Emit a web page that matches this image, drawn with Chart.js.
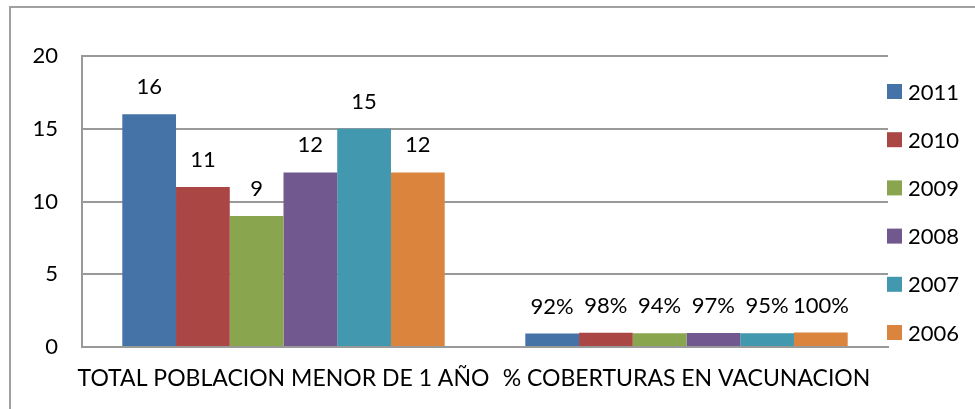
<!DOCTYPE html>
<html>
<head>
<meta charset="utf-8">
<script src="https://cdn.jsdelivr.net/npm/chart.js@4.4.1/dist/chart.umd.min.js"></script>
<style>
  html, body { margin: 0; padding: 0; background: #fff; }
  #wrap { width: 975px; height: 409px; position: relative; }
</style>
</head>
<body>
<div id="wrap"><canvas id="c" width="975" height="409"></canvas></div>
<script>
const categories = ["TOTAL POBLACION MENOR DE 1 AÑO", "% COBERTURAS EN VACUNACION"];
const seriesNames = ["2011", "2010", "2009", "2008", "2007", "2006"];
const s2011 = [16, 0.92];
const s2010 = [11, 0.98];
const s2009 = [9, 0.94];
const s2008 = [12, 0.97];
const s2007 = [15, 0.95];
const s2006 = [12, 1.00];
const yTicks = [0, 5, 10, 15, 20];
const colors = ["#4572A7", "#AA4643", "#89A54E", "#71588F", "#4198AF", "#DB843D"];

const FONT = "Lato, 'Liberation Sans', sans-serif";
const FS = 22;

function fmtLabel(catIndex, v) {
  return catIndex === 1 ? Math.round(v * 100) + "%" : String(v);
}

const seriesData = [s2011, s2010, s2009, s2008, s2007, s2006];

const frame = {
  id: "frame",
  beforeDraw(chart) {
    const ctx = chart.ctx;
    ctx.save();
    ctx.strokeStyle = "#a0a0a0";
    ctx.lineWidth = 2;
    ctx.strokeRect(10, 7, 1000, 460);
    ctx.restore();
  }
};

const valueLabels = {
  id: "valueLabels",
  afterDatasetsDraw(chart) {
    const ctx = chart.ctx;
    ctx.save();
    ctx.font = FS + "px " + FONT;
    ctx.fillStyle = "#000";
    ctx.textAlign = "center";
    ctx.textBaseline = "middle";
    chart.data.datasets.forEach((ds, di) => {
      const meta = chart.getDatasetMeta(di);
      meta.data.forEach((bar, i) => {
        ctx.fillText(fmtLabel(i, ds.data[i]), bar.x, bar.y - 27);
      });
    });
    ctx.restore();
  }
};

const sideLegend = {
  id: "sideLegend",
  afterDraw(chart) {
    const ctx = chart.ctx;
    ctx.save();
    ctx.font = FS + "px " + FONT;
    ctx.textAlign = "left";
    ctx.textBaseline = "middle";
    chart.data.datasets.forEach((ds, i) => {
      const cy = 91.5 + i * 48.2;
      ctx.fillStyle = ds.backgroundColor;
      ctx.fillRect(887, cy - 7.5, 15, 15);
      ctx.fillStyle = "#000";
      ctx.fillText(ds.label, 908, cy + 1);
    });
    ctx.restore();
  }
};

new Chart(document.getElementById("c"), {
  type: "bar",
  data: {
    labels: categories,
    datasets: seriesNames.map((name, i) => ({
      label: name,
      data: seriesData[i],
      backgroundColor: colors[i],
      borderWidth: 0,
      categoryPercentage: 0.8,
      barPercentage: 1.0
    }))
  },
  options: {
    responsive: false,
    animation: false,
    devicePixelRatio: 1,
    layout: { padding: { top: 56, right: 87, left: 0, bottom: 0 } },
    plugins: {
      legend: { display: false },
      tooltip: { enabled: false },
      title: { display: false }
    },
    scales: {
      x: {
        grid: { display: false, drawTicks: false },
        border: { display: true, color: "#999999", width: 2 },
        ticks: {
          color: "#000",
          font: { family: FONT, size: 23 },
          padding: 18,
          maxRotation: 0,
          autoSkip: false
        },
        afterFit(scale) { scale.height = 409 - 347; }
      },
      y: {
        min: 0,
        max: 20,
        afterBuildTicks(scale) { scale.ticks = yTicks.map(v => ({ value: v })); },
        grid: { color: "#999999", lineWidth: 2, drawTicks: false },
        border: { display: true, color: "#999999", width: 2 },
        ticks: {
          color: "#000",
          font: { family: FONT, size: FS },
          padding: 24
        },
        afterFit(scale) { scale.width = 82; }
      }
    }
  },
  plugins: [frame, valueLabels, sideLegend]
});
</script>
</body>
</html>
